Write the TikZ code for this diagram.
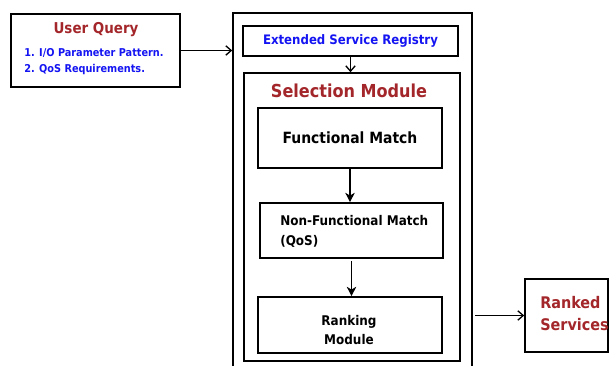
\documentclass[tikz,border=0pt]{standalone}
\usepackage{fontspec}
\setmainfont{DejaVu Sans Condensed}
\usepackage{xcolor}
\usepackage{tikz}
\usetikzlibrary{arrows.meta,positioning,calc}
\definecolor{qryred}{HTML}{A3262A}
\definecolor{qryblue}{HTML}{1414F2}

\begin{document}
\begin{tikzpicture}[x=0.75pt,y=-0.75pt,font=\bfseries,
  box/.style={draw=black,line width=1.2pt,inner sep=0},
  redtxt/.style={text=qryred,font=\bfseries\fontsize{#1}{16.5}\selectfont,align=left},
  arr/.style={-{Straight Barb[length=4pt,width=7pt]},line width=1pt},
  farr/.style={-{Stealth[length=7pt,width=7pt,inset=2pt]},line width=1pt}]
  \useasboundingbox (0,0) rectangle (610,366);
  % left: the query
  \node[box,minimum width=126.75pt,minimum height=54.75pt] (uq) at (95.5,50.5) {};
  \node[redtxt=11.2] (uqt) at (96,30) {User Query};
  \node[text=qryblue,font=\bfseries\fontsize{8.1}{12}\selectfont,align=left,anchor=north west,inner sep=0] (uql) at (24,48)
    {1. I/O Parameter Pattern.\\2. QoS Requirements.};
  % middle: registry and selection module
  \node[box,minimum width=179.25pt,minimum height=275.25pt] (outer) at (352.5,196.5) {};
  \node[box,minimum width=161.25pt,minimum height=22.5pt,text=qryblue,font=\bfseries\fontsize{9.8}{12}\selectfont] (reg) at (350.5,41) {Extended Service Registry};
  \node[box,minimum width=162pt,minimum height=216pt] (sel) at (352,217) {};
  \node[redtxt=13.4] (selt) at (349,91) {Selection Module};
  \node[box,minimum width=138pt,minimum height=45pt,font=\bfseries\fontsize{11.6}{14}\selectfont] (fm) at (350,138) {Functional Match};
  \node[box,minimum width=137.25pt,minimum height=41.25pt] (nfm) at (351.5,230.5) {};
  \node[font=\bfseries\fontsize{10}{15}\selectfont,align=left,anchor=west,inner sep=0] (nfmt) at (280,231) {Non-Functional Match\\(QoS)};
  \node[box,minimum width=138pt,minimum height=42pt] (rank) at (350,325) {};
  \node[font=\bfseries\fontsize{10}{14.5}\selectfont,align=center,inner sep=0] (rankt) at (349,330) {Ranking\\Module};
  % right: the result
  \node[box,minimum width=62.25pt,minimum height=54.75pt] (rs) at (566.5,315.5) {};
  \node[redtxt=12,anchor=west,inner sep=0] (rst) at (540,314) {Ranked\\Services};
  \draw[arr] (uq.east) -- (uq.east -| outer.west);
  \draw[arr] (reg.south) -- (reg.south |- sel.north);
  \draw[farr] (fm.south) -- (fm.south |- nfm.north);
  \draw[farr] ([yshift=-2pt]nfm.south) -- (nfm.south |- rank.north);
  \draw[arr] ([xshift=2pt]outer.east |- rs.west) -- (rs.west);
\end{tikzpicture}
\end{document}
